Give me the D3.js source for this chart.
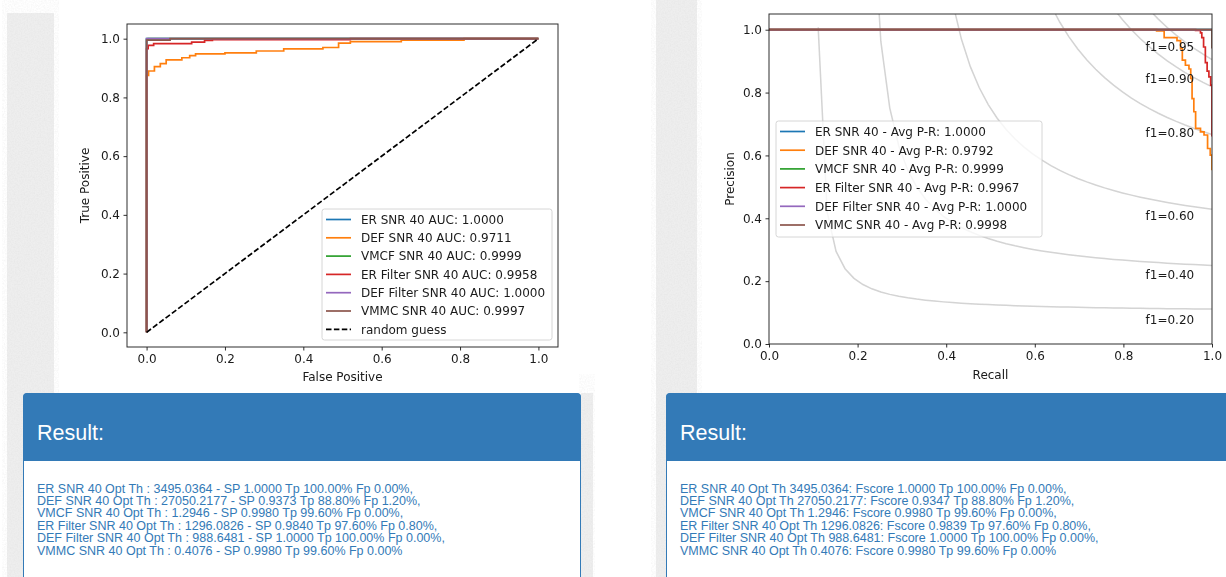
<!DOCTYPE html>
<html>
<head>
<meta charset="utf-8">
<script src="https://cdn.jsdelivr.net/npm/d3@7"></script>
<style>
body { margin: 0; background: #fff; overflow: hidden; }
.mpl text { font-family: "DejaVu Sans", sans-serif; }
.panel text { font-family: "Liberation Sans", Arial, sans-serif; }
</style>
</head>
<body>
<svg id="page" width="1226" height="577"></svg>
<script>
// ---- data ----
var seriesNames = ["ER SNR 40", "DEF SNR 40", "VMCF SNR 40", "ER Filter SNR 40", "DEF Filter SNR 40", "VMMC SNR 40"];
var seriesColors = ["#1f77b4", "#ff7f0e", "#2ca02c", "#d62728", "#9467bd", "#8c564b"];
var rocAuc = ["1.0000", "0.9711", "0.9999", "0.9958", "1.0000", "0.9997"];
var prAvg = ["1.0000", "0.9792", "0.9999", "0.9967", "1.0000", "0.9998"];

// ROC vertices (fpr, tpr), drawn as steps
var rocER = [[0, 0], [0, 1], [1, 1]];
var rocDEF = [[0, 0], [0, 0.875], [0.005, 0.89], [0.02, 0.905], [0.035, 0.915], [0.05, 0.928], [0.09, 0.935],
  [0.11, 0.942], [0.125, 0.948], [0.2, 0.952], [0.28, 0.958], [0.35, 0.965], [0.45, 0.97], [0.49, 0.985],
  [0.52, 0.99], [0.65, 0.995], [0.81, 1], [1, 1]];
var rocVMCF = [[0, 0], [0, 0.998], [0.004, 1], [1, 1]];
var rocERF = [[0, 0], [0, 0.966], [0.004, 0.977], [0.018, 0.983], [0.115, 0.988], [0.148, 0.994], [0.168, 0.997], [0.52, 1], [1, 1]];
var rocDEFF = [[0, 0], [0, 1], [1, 1]];
var rocVMMC = [[0, 0], [0, 0.995], [0.06, 1], [1, 1]];
var rocPoints = [rocER, rocDEF, rocVMCF, rocERF, rocDEFF, rocVMMC];
var guessLine = [[0, 0], [1, 1]];

// precision-recall vertices (recall, precision), drawn as steps
var prER = [[0, 1], [1, 1]];
var prDEF = [[0, 1], [0.875, 0.996], [0.892, 0.975], [0.921, 0.965], [0.929, 0.94], [0.933, 0.903], [0.94, 0.887],
  [0.948, 0.875], [0.952, 0.845], [0.955, 0.781], [0.959, 0.739], [0.963, 0.686], [0.974, 0.675], [0.982, 0.665],
  [0.99, 0.622], [0.996, 0.601], [1, 0.553]];
var prVMCF = [[0, 1], [1, 1]];
var prERF = [[0, 1], [0.963, 0.998], [0.974, 0.99], [0.977, 0.975], [0.981, 0.945], [0.985, 0.895], [0.989, 0.868],
  [0.993, 0.85], [0.997, 0.824], [1, 0.66]];
var prDEFF = [[0, 1], [1, 1]];
var prVMMC = [[0, 1], [0.998, 1], [1, 0.94]];
var prPoints = [prER, prDEF, prVMCF, prERF, prDEFF, prVMMC];

var f1Scores = [0.2, 0.4, 0.6, 0.8, 0.9, 0.95];
var axisTicks = [0, 0.2, 0.4, 0.6, 0.8, 1.0];

var rocResults = [
  "ER SNR 40 Opt Th : 3495.0364 - SP 1.0000 Tp 100.00% Fp 0.00%,",
  "DEF SNR 40 Opt Th : 27050.2177 - SP 0.9373 Tp 88.80% Fp 1.20%,",
  "VMCF SNR 40 Opt Th : 1.2946 - SP 0.9980 Tp 99.60% Fp 0.00%,",
  "ER Filter SNR 40 Opt Th : 1296.0826 - SP 0.9840 Tp 97.60% Fp 0.80%,",
  "DEF Filter SNR 40 Opt Th : 988.6481 - SP 1.0000 Tp 100.00% Fp 0.00%,",
  "VMMC SNR 40 Opt Th : 0.4076 - SP 0.9980 Tp 99.60% Fp 0.00%"
];
var prResults = [
  "ER SNR 40 Opt Th 3495.0364: Fscore 1.0000 Tp 100.00% Fp 0.00%,",
  "DEF SNR 40 Opt Th 27050.2177: Fscore 0.9347 Tp 88.80% Fp 1.20%,",
  "VMCF SNR 40 Opt Th 1.2946: Fscore 0.9980 Tp 99.60% Fp 0.00%,",
  "ER Filter SNR 40 Opt Th 1296.0826: Fscore 0.9839 Tp 97.60% Fp 0.80%,",
  "DEF Filter SNR 40 Opt Th 988.6481: Fscore 1.0000 Tp 100.00% Fp 0.00%,",
  "VMMC SNR 40 Opt Th 0.4076: Fscore 0.9980 Tp 99.60% Fp 0.00%"
];

// ---- page ----
var svg = d3.select("#page");
var defs = svg.append("defs");

var noise = defs.append("filter").attr("id", "noise");
noise.append("feTurbulence").attr("type", "fractalNoise").attr("baseFrequency", 0.7)
  .attr("numOctaves", 2).attr("seed", 4);
noise.append("feColorMatrix").attr("type", "matrix")
  .attr("values", "0 0 0 0 0.6  0 0 0 0 0.6  0 0 0 0 0.6  0.35 0 0 0 -0.12");

// the charts are screenshots of scaled images, so soften them a little
defs.append("filter").attr("id", "soft").append("feGaussianBlur").attr("stdDeviation", 0.35);

svg.append("rect").attr("width", 1226).attr("height", 577).attr("fill", "#fff");

// textured gray strips of the page background
var strips = [[7, 13, 47, 564], [581, 393, 12, 184], [656, 0, 41, 577]];
strips.forEach(function(s) {
  svg.append("rect").attr("x", s[0]).attr("y", s[1]).attr("width", s[2]).attr("height", s[3]).attr("fill", "#eeeeee");
  svg.append("rect").attr("x", s[0]).attr("y", s[1]).attr("width", s[2]).attr("height", s[3])
    .attr("filter", "url(#noise)");
});

function drawFrame(cfg) {
  var x = d3.scaleLinear().domain(cfg.xDomain).range([cfg.left, cfg.right]);
  var y = d3.scaleLinear().domain(cfg.yDomain).range([cfg.bottom, cfg.top]);
  var g = svg.append("g").attr("class", "mpl").attr("filter", "url(#soft)");

  defs.append("clipPath").attr("id", cfg.id)
    .append("rect").attr("x", cfg.left).attr("y", cfg.top)
    .attr("width", cfg.right - cfg.left).attr("height", cfg.bottom - cfg.top);

  var plot = g.append("g").attr("clip-path", "url(#" + cfg.id + ")");

  var xAxis = g.append("g").attr("transform", "translate(0," + cfg.bottom + ")")
    .call(d3.axisBottom(x).tickValues(axisTicks).tickFormat(d3.format(".1f"))
      .tickSize(3.5).tickPadding(3.5).tickSizeOuter(0));
  var yAxis = g.append("g").attr("transform", "translate(" + cfg.left + ",0)")
    .call(d3.axisLeft(y).tickValues(axisTicks).tickFormat(d3.format(".1f"))
      .tickSize(3.5).tickPadding(3.5).tickSizeOuter(0));
  [xAxis, yAxis].forEach(function(a) {
    a.select(".domain").remove();
    a.selectAll("line").attr("stroke", "#1a1a1a").attr("stroke-width", 0.9);
    a.selectAll("text").attr("fill", "#1a1a1a").style("font-size", "12px");
  });

  g.append("text").attr("x", (cfg.left + cfg.right) / 2).attr("y", cfg.xlabelY)
    .attr("text-anchor", "middle").attr("fill", "#1a1a1a").style("font-size", "12px").text(cfg.xlabel);
  g.append("text").attr("transform", "translate(" + cfg.ylabelX + "," + (cfg.top + cfg.bottom) / 2 + ") rotate(-90)")
    .attr("text-anchor", "middle").attr("fill", "#1a1a1a").style("font-size", "12px").text(cfg.ylabel);

  return { x: x, y: y, g: g, plot: plot };
}

function drawSpines(f, cfg) {
  f.g.append("rect").attr("x", cfg.left).attr("y", cfg.top)
    .attr("width", cfg.right - cfg.left).attr("height", cfg.bottom - cfg.top)
    .attr("fill", "none").attr("stroke", "#1a1a1a").attr("stroke-width", 0.9);
}

function drawLegend(g, box, rows) {
  g.append("rect").attr("x", box.x).attr("y", box.y).attr("width", box.w).attr("height", box.h)
    .attr("rx", 2.5).attr("fill", "#fff").attr("fill-opacity", 0.8)
    .attr("stroke", "#cccccc").attr("stroke-width", 0.8);
  rows.forEach(function(r, i) {
    var cy = box.y + box.first + i * box.step;
    g.append("line").attr("x1", box.x + 4).attr("x2", box.x + 29).attr("y1", cy).attr("y2", cy)
      .attr("stroke", r.color).attr("stroke-width", 1.7)
      .attr("stroke-dasharray", r.dashed ? "5.5,2.4" : null);
    g.append("text").attr("x", box.x + 39).attr("y", cy + 4.3)
      .attr("fill", "#1a1a1a").style("font-size", "12px").text(r.label);
  });
}

// ---- ROC chart ----
var rocCfg = { id: "clipRoc", left: 127, right: 558, top: 24, bottom: 347,
  xDomain: [-0.05, 1.05], yDomain: [-0.05, 1.05],
  xlabel: "False Positive", ylabel: "True Positive", xlabelY: 381, ylabelX: 88.5 };
var roc = drawFrame(rocCfg);

var rocLine = d3.line().x(function(d) { return roc.x(d[0]); }).y(function(d) { return roc.y(d[1]); })
  .curve(d3.curveStepAfter);
rocPoints.forEach(function(pts, i) {
  roc.plot.append("path").attr("d", rocLine(pts)).attr("fill", "none")
    .attr("stroke", seriesColors[i]).attr("stroke-width", 1.7);
});
roc.plot.append("path").attr("d", d3.line().x(function(d) { return roc.x(d[0]); }).y(function(d) { return roc.y(d[1]); })(guessLine))
  .attr("fill", "none").attr("stroke", "#000").attr("stroke-width", 1.7).attr("stroke-dasharray", "5.5,2.4");
drawSpines(roc, rocCfg);

var rocRows = seriesNames.map(function(n, i) { return { color: seriesColors[i], label: n + " AUC: " + rocAuc[i] }; });
rocRows.push({ color: "#000", label: "random guess", dashed: true });
drawLegend(roc.g, { x: 322, y: 209, w: 230, h: 131, first: 10.5, step: 18.3 }, rocRows);

// ---- Precision-recall chart ----
var prCfg = { id: "clipPr", left: 769, right: 1212, top: 14, bottom: 344,
  xDomain: [0, 1], yDomain: [0, 1.05],
  xlabel: "Recall", ylabel: "Precision", xlabelY: 379, ylabelX: 734 };
var pr = drawFrame(prCfg);

// iso-F1 guide curves, as in the original plotting code
var isoX = d3.range(50).map(function(i) { return 0.01 + i * 0.99 / 49; });
f1Scores.forEach(function(f) {
  var pts = isoX.map(function(v) { return [v, f * v / (2 * v - f)]; }).filter(function(p) { return p[1] >= 0; });
  pr.plot.append("path")
    .attr("d", d3.line().x(function(d) { return pr.x(d[0]); }).y(function(d) { return pr.y(d[1]); })(pts))
    .attr("fill", "none").attr("stroke", "#808080").attr("stroke-opacity", 0.35).attr("stroke-width", 1.5);
  var v = isoX[45];
  pr.g.append("text").attr("x", pr.x(0.85)).attr("y", pr.y(f * v / (2 * v - f) - 0.05))
    .attr("fill", "#1a1a1a").style("font-size", "12px").text("f1=" + f.toFixed(2));
});

var prLine = d3.line().x(function(d) { return pr.x(d[0]); }).y(function(d) { return pr.y(d[1]); })
  .curve(d3.curveStepAfter);
prPoints.forEach(function(pts, i) {
  pr.plot.append("path").attr("d", prLine(pts)).attr("fill", "none")
    .attr("stroke", seriesColors[i]).attr("stroke-width", 1.7);
});
drawSpines(pr, prCfg);

var prRows = seriesNames.map(function(n, i) { return { color: seriesColors[i], label: n + " - Avg P-R: " + prAvg[i] }; });
drawLegend(pr.g, { x: 776, y: 121, w: 266, h: 116, first: 10.5, step: 18.7 }, prRows);

// ---- result panels ----
function drawPanel(x0, w, lines) {
  var p = svg.append("g").attr("class", "panel");
  p.append("rect").attr("x", x0 + 0.5).attr("y", 393.5).attr("width", w).attr("height", 260)
    .attr("rx", 4).attr("fill", "#fff").attr("stroke", "#337ab7");
  p.append("rect").attr("x", x0).attr("y", 393).attr("width", w + 1).attr("height", 68)
    .attr("rx", 4).attr("fill", "#337ab7");
  p.append("rect").attr("x", x0).attr("y", 430).attr("width", w + 1).attr("height", 31).attr("fill", "#337ab7");
  p.append("text").attr("x", x0 + 14).attr("y", 439.5).attr("fill", "#fff")
    .style("font-size", "21.5px").text("Result:");
  p.selectAll("text.line").data(lines).enter().append("text").attr("class", "line")
    .attr("x", x0 + 14).attr("y", function(d, i) { return 492.5 + i * 12.4; })
    .attr("fill", "#337ab7").style("font-size", "12.5px").text(function(d) { return d; });
}
drawPanel(23, 557, rocResults);
drawPanel(666, 600, prResults);
</script>
</body>
</html>
